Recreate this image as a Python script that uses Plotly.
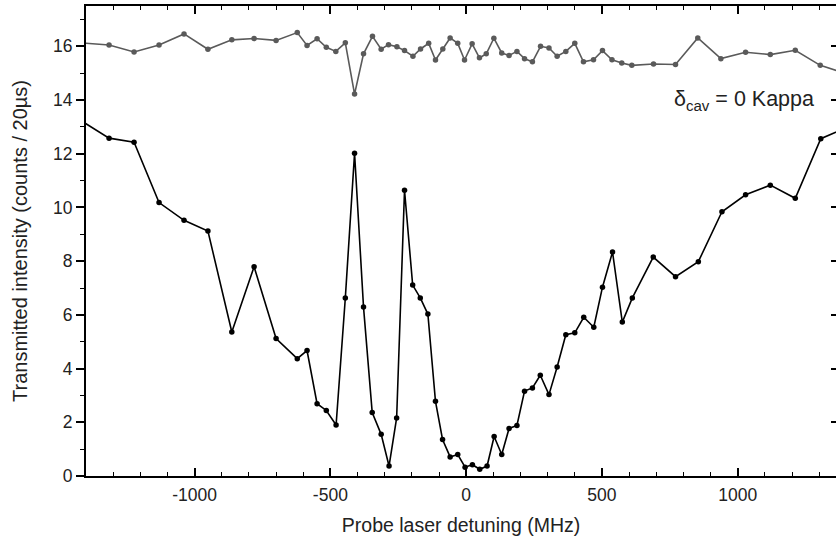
import plotly.graph_objects as go

# Upper (grey) series: probe off-resonant reference
x_top = [-1410, -1315, -1223, -1131, -1039, -951, -863, -781, -700, -622, -586, -549, -515, -480, -445,
         -411, -378, -345, -313, -286, -255, -227, -196, -168, -138, -113, -86, -59, -31, -6, 22, 49,
         74, 102, 131, 158, 187, 215, 244, 274, 305, 335, 367, 400, 432, 469, 502, 537, 573, 610,
         690, 771, 853, 938, 1029, 1120, 1212, 1304, 1400]
y_top = [16.12, 16.05, 15.79, 16.05, 16.46, 15.89, 16.24, 16.29, 16.22, 16.51, 16.03, 16.28, 15.96, 15.81, 16.13,
         14.22, 15.72, 16.37, 15.89, 16.06, 15.98, 15.84, 15.63, 15.90, 16.11, 15.49, 15.90, 16.31, 16.11, 15.49, 16.09, 15.57,
         15.72, 16.30, 15.75, 15.66, 15.81, 15.54, 15.42, 16.00, 15.94, 15.63, 15.81, 16.11, 15.42, 15.50, 15.84, 15.50, 15.38, 15.29,
         15.34, 15.32, 16.31, 15.54, 15.78, 15.69, 15.85, 15.29, 14.98]

# Lower (black) series: transmission spectrum
x_low = [-1410, -1315, -1223, -1131, -1039, -951, -863, -781, -700, -622, -586, -549, -515, -479, -445,
         -411, -378, -346, -313, -284, -256, -227, -197, -169, -141, -113, -87, -59, -31, -4, 23, 50,
         77, 103, 131, 158, 187, 215, 244, 273, 305, 335, 367, 400, 433, 470, 502, 539, 575, 612,
         689, 771, 855, 942, 1029, 1120, 1212, 1306, 1400]
y_low = [13.18, 12.58, 12.43, 10.18, 9.52, 9.12, 5.36, 7.79, 5.12, 4.37, 4.67, 2.69, 2.44, 1.90, 6.63,
         12.02, 6.29, 2.36, 1.55, 0.37, 2.16, 10.64, 7.11, 6.63, 6.03, 2.78, 1.36, 0.71, 0.80, 0.33, 0.42, 0.25,
         0.37, 1.47, 0.80, 1.77, 1.88, 3.16, 3.28, 3.75, 3.03, 4.06, 5.26, 5.33, 5.91, 5.54, 7.03, 8.34, 5.73, 6.63,
         8.15, 7.42, 7.98, 9.84, 10.47, 10.83, 10.34, 12.56, 12.97]

x_ticks = [-1000, -500, 0, 500, 1000]
y_ticks = [0, 2, 4, 6, 8, 10, 12, 14, 16]

FONT = "Liberation Sans, Arial, sans-serif"
TXT = "#222222"

fig = go.Figure()
fig.add_trace(go.Scatter(x=x_top, y=y_top, mode="lines+markers",
                         line=dict(color="#5a5a5a", width=1.6),
                         marker=dict(color="#5a5a5a", size=5.5),
                         showlegend=False))
fig.add_trace(go.Scatter(x=x_low, y=y_low, mode="lines+markers",
                         line=dict(color="#000000", width=1.6),
                         marker=dict(color="#000000", size=5.5),
                         showlegend=False))
# invisible trace on right axis for inward right ticks
fig.add_trace(go.Scatter(x=[x_low[1]], y=[y_low[1]], yaxis="y2", mode="markers",
                         marker=dict(opacity=0), showlegend=False, hoverinfo="skip"))

fig.add_annotation(x=759, y=14.0, xref="x", yref="y",
                   text="δ<sub>cav</sub> = 0 Kappa", showarrow=False,
                   xanchor="left", yanchor="middle",
                   font=dict(family=FONT, size=21.5, color=TXT))

fig.update_layout(
    width=836, height=537,
    margin=dict(l=86, r=0, t=6, b=61),
    paper_bgcolor="white", plot_bgcolor="white",
    font=dict(family=FONT, color=TXT),
    xaxis=dict(range=[-1400, 1362], tickvals=x_ticks, ticktext=[str(v) for v in x_ticks],
               ticks="inside", ticklen=8, tickwidth=1.5, tickcolor="black",
               minor=dict(dtick=100, ticks="inside", ticklen=4, tickwidth=1.2, tickcolor="black"),
               showline=True, linecolor="black", linewidth=2, mirror="ticks",
               showgrid=False, zeroline=False, automargin=False,
               tickfont=dict(size=17.5, color=TXT),
               ticklabelstandoff=2,
               title=dict(text="Probe laser detuning (MHz)", font=dict(size=19.5, color=TXT), standoff=14)),
    yaxis=dict(range=[0, 17.5], tickvals=y_ticks, ticktext=[str(v) for v in y_ticks],
               ticks="outside", ticklen=8, tickwidth=1.5, tickcolor="black",
               minor=dict(dtick=1, ticks="outside", ticklen=4, tickwidth=1.2, tickcolor="black"),
               showline=True, linecolor="black", linewidth=2,
               showgrid=False, zeroline=False, automargin=False,
               tickfont=dict(size=17.5, color=TXT),
               title=dict(text="Transmitted intensity (counts / 20µs)", font=dict(size=20, color=TXT), standoff=20)),
    yaxis2=dict(overlaying="y", side="right", matches="y", tickvals=y_ticks,
                ticks="inside", ticklen=5, tickwidth=1.5, tickcolor="black", automargin=False,
                showticklabels=False, showgrid=False, zeroline=False, showline=False),
)

fig.write_html("out.html", config={"displayModeBar": False},
               post_script="document.body.style.margin='0';document.body.style.overflow='hidden';")
